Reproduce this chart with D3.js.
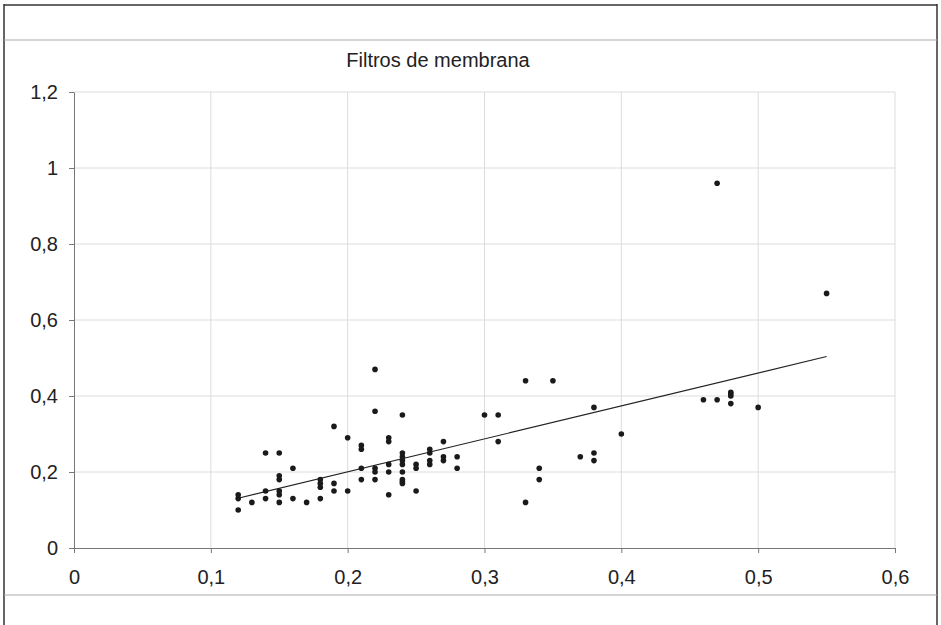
<!DOCTYPE html>
<html>
<head>
<meta charset="utf-8">
<script src="https://cdn.jsdelivr.net/npm/d3@7"></script>
<style>
  body { margin: 0; background: #fff; }
  svg { display: block; font-family: "Liberation Sans", Arial, sans-serif; }
</style>
</head>
<body>
<svg width="941" height="625"></svg>
<script>
// values
const xValues = [0.12, 0.12, 0.12, 0.13, 0.14, 0.14, 0.14,
  0.15, 0.15, 0.15, 0.15, 0.15, 0.15, 0.16, 0.16, 0.17,
  0.18, 0.18, 0.18, 0.18, 0.19, 0.19, 0.19, 0.20, 0.20,
  0.21, 0.21, 0.21, 0.21, 0.22, 0.22, 0.22, 0.22, 0.22,
  0.23, 0.23, 0.23, 0.23, 0.23,
  0.24, 0.24, 0.24, 0.24, 0.24, 0.24, 0.24, 0.24, 0.24,
  0.25, 0.25, 0.25, 0.26, 0.26, 0.26, 0.26, 0.27, 0.27, 0.27,
  0.28, 0.28, 0.30, 0.31, 0.31, 0.33, 0.33, 0.34, 0.34, 0.35,
  0.37, 0.38, 0.38, 0.38, 0.40, 0.46, 0.47, 0.47,
  0.48, 0.48, 0.48, 0.48, 0.50, 0.55];
const yValues = [0.14, 0.13, 0.10, 0.12, 0.25, 0.15, 0.13,
  0.25, 0.19, 0.18, 0.15, 0.14, 0.12, 0.21, 0.13, 0.12,
  0.18, 0.17, 0.16, 0.13, 0.32, 0.17, 0.15, 0.29, 0.15,
  0.27, 0.26, 0.21, 0.18, 0.47, 0.36, 0.21, 0.20, 0.18,
  0.29, 0.28, 0.22, 0.20, 0.14,
  0.35, 0.25, 0.24, 0.23, 0.22, 0.20, 0.18, 0.175, 0.17,
  0.22, 0.21, 0.15, 0.26, 0.25, 0.23, 0.22, 0.28, 0.24, 0.23,
  0.24, 0.21, 0.35, 0.35, 0.28, 0.44, 0.12, 0.21, 0.18, 0.44,
  0.24, 0.37, 0.25, 0.23, 0.30, 0.39, 0.96, 0.39,
  0.41, 0.405, 0.40, 0.38, 0.37, 0.67];
const trendX = [0.12, 0.55];
const trendY = [0.131, 0.504];
const xTicks = [0, 0.1, 0.2, 0.3, 0.4, 0.5, 0.6];
const yTicks = [0, 0.2, 0.4, 0.6, 0.8, 1, 1.2];
const title = "Filtros de membrana";

const svg = d3.select('svg');
const width = +svg.attr('width');
const height = +svg.attr('height');

const margin = {top: 92, right: 46, bottom: 77, left: 74};
const innerWidth = width - margin.left - margin.right;
const innerHeight = height - margin.top - margin.bottom;

const fmt = d => d3.format('~g')(d).replace('.', ',');

const xScale = d3.scaleLinear().domain([0, 0.6]).range([0, innerWidth]);
const yScale = d3.scaleLinear().domain([0, 1.2]).range([innerHeight, 0]);

// page frame around the chart
svg.append('line').attr('x1', 4).attr('x2', 937).attr('y1', 5).attr('y2', 5)
  .attr('stroke', '#333').attr('stroke-width', 1.5);
svg.append('line').attr('x1', 4).attr('x2', 4).attr('y1', 4).attr('y2', height)
  .attr('stroke', '#333').attr('stroke-width', 1.5);
svg.append('line').attr('x1', 937).attr('x2', 937).attr('y1', 4).attr('y2', height)
  .attr('stroke', '#333').attr('stroke-width', 1.5);
svg.append('line').attr('x1', 4).attr('x2', 937).attr('y1', 40).attr('y2', 40)
  .attr('stroke', '#aaa');
svg.append('line').attr('x1', 4).attr('x2', 937).attr('y1', 595).attr('y2', 595)
  .attr('stroke', '#aaa');

const g = svg.append('g')
  .attr('transform', `translate(${margin.left}, ${margin.top})`);

// gridlines
g.selectAll('.vgrid').data(xTicks.slice(1)).enter().append('line')
  .attr('x1', d => xScale(d)).attr('x2', d => xScale(d))
  .attr('y1', 0).attr('y2', innerHeight)
  .attr('stroke', '#dcdcdc');
g.selectAll('.hgrid').data(yTicks.slice(1)).enter().append('line')
  .attr('x1', 0).attr('x2', innerWidth)
  .attr('y1', d => yScale(d)).attr('y2', d => yScale(d))
  .attr('stroke', '#dcdcdc');

const xAxis = g.append('g')
  .attr('transform', `translate(0, ${innerHeight})`)
  .call(d3.axisBottom(xScale).tickValues(xTicks).tickFormat(fmt).tickSize(5).tickSizeOuter(0));
const yAxis = g.append('g')
  .call(d3.axisLeft(yScale).tickValues(yTicks).tickFormat(fmt).tickSize(5).tickSizeOuter(0));

[xAxis, yAxis].forEach(a => {
  a.attr('font-size', 20).attr('font-family', '"Liberation Sans", Arial, sans-serif');
  a.select('.domain').attr('stroke', '#777');
  a.selectAll('.tick line').attr('stroke', '#777');
  a.selectAll('.tick text').attr('fill', '#222');
});
xAxis.selectAll('.tick text').attr('y', 22).attr('dy', '0.71em');
yAxis.selectAll('.tick text').attr('x', -16);

// trend line
g.append('line')
  .attr('x1', xScale(trendX[0])).attr('y1', yScale(trendY[0]))
  .attr('x2', xScale(trendX[1])).attr('y2', yScale(trendY[1]))
  .attr('stroke', '#222').attr('stroke-width', 1.2);

// points
g.selectAll('circle').data(xValues).enter().append('circle')
  .attr('cx', d => xScale(d))
  .attr('cy', (d, i) => yScale(yValues[i]))
  .attr('r', 2.8)
  .attr('fill', '#1a1a1a');

svg.append('text')
  .attr('x', 438).attr('y', 67)
  .attr('text-anchor', 'middle')
  .attr('font-size', 20)
  .attr('fill', '#222')
  .text(title);
</script>
</body>
</html>
